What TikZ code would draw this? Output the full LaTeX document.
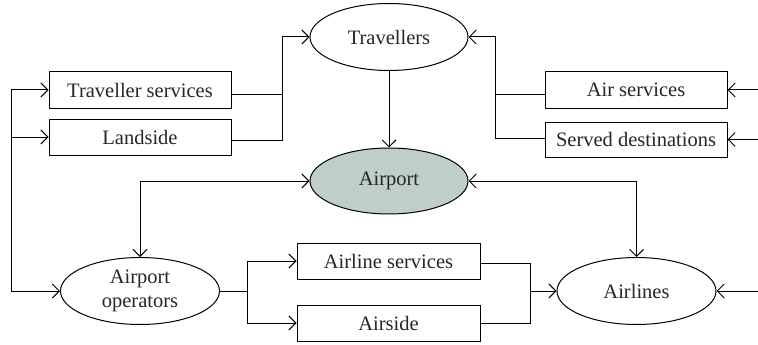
\documentclass[tikz,border=0pt]{standalone}
\usepackage{fontspec}
\setmainfont{Liberation Serif}
\usetikzlibrary{shapes.geometric,arrows.meta}
\definecolor{airportfill}{RGB}{191,205,203}
\tikzset{
  every node/.style={font=\fontsize{20.5}{23.5}\selectfont, text=black!85},
  box/.style={draw, rectangle, minimum width=182pt, minimum height=36pt, inner sep=0pt, line width=1pt},
  oval/.style={draw, ellipse, minimum width=158pt, minimum height=67pt, inner sep=0pt, line width=1pt, align=center},
  conn/.style={line width=1pt, -{Straight Barb[length=7pt,width=14pt]}},
  both/.style={line width=1pt, {Straight Barb[length=7pt,width=14pt]}-{Straight Barb[length=7pt,width=14pt]}},
  plain/.style={line width=1pt}
}
\begin{document}
\begin{tikzpicture}[x=1pt,y=-1pt]
\useasboundingbox (0,0) rectangle (758,345);
% nodes
\node[oval] (trav) at (389,37) {Travellers};
\node[box] (tsv) at (140,90) {Traveller services};
\node[box] (land) at (140,137) {Landside};
\node[box] (airsv) at (636,90) {Air services};
\node[box, minimum height=35pt] (served) at (636,139.5) {Served destinations};
\node[oval, fill=airportfill, minimum height=66pt] (airport) at (389,181) {Airport};
\node[oval, minimum width=159pt] (aop) at (140,291) {Airport\\operators};
\node[box, minimum width=183pt] (alsv) at (388.5,261) {Airline services};
\node[box, minimum width=183pt] (aside) at (388.5,323) {Airside};
\node[oval, minimum width=159pt] (airlines) at (636.5,291) {Airlines};
% coordinates
\coordinate (lt) at (11,90);
\coordinate (lm) at (11,137);
\coordinate (lb) at (11,291);
\coordinate (r1) at (758,90);
\coordinate (r2) at (758,139.5);
\coordinate (r3) at (758,291);
% left feed
\draw[plain] (lt) -- (lb);
\draw[conn] (lt) -- (tsv.west);
\draw[conn] (lm) -- (land.west);
\draw[conn] (lb) -- (aop.west);
% to travellers from left
\draw[plain] ([yshift=-5pt]tsv.east) -| (282,37);
\draw[conn] ([yshift=-3pt]land.east) -| (282,37) -- (trav.west);
% to travellers from right
\draw[plain] ([yshift=-5pt]airsv.west) -| (495,37);
\draw[conn] ([yshift=1.5pt]served.west) -| (495,37) -- (trav.east);
% right feeds
\draw[conn] (r1) -- (airsv.east);
\draw[conn] (r2) -- (served.east);
\draw[conn] (r3) -- (airlines.east);
% travellers to airport
\draw[conn] (trav.south) -- (airport.north);
% airport to operators / airlines
\draw[both] (airport.west) -| (aop.north);
\draw[both] (airport.east) -| (airlines.north);
% operators to services
\draw[plain] (aop.east) -- (247,291);
\draw[conn] (247,291) |- (alsv.west);
\draw[conn] (247,291) |- (aside.west);
% services to airlines
\draw[plain] ([yshift=-2pt]alsv.east) -| (530,291);
\draw[conn] (aside.east) -| (530,291) -- (airlines.west);
\end{tikzpicture}
\end{document}
